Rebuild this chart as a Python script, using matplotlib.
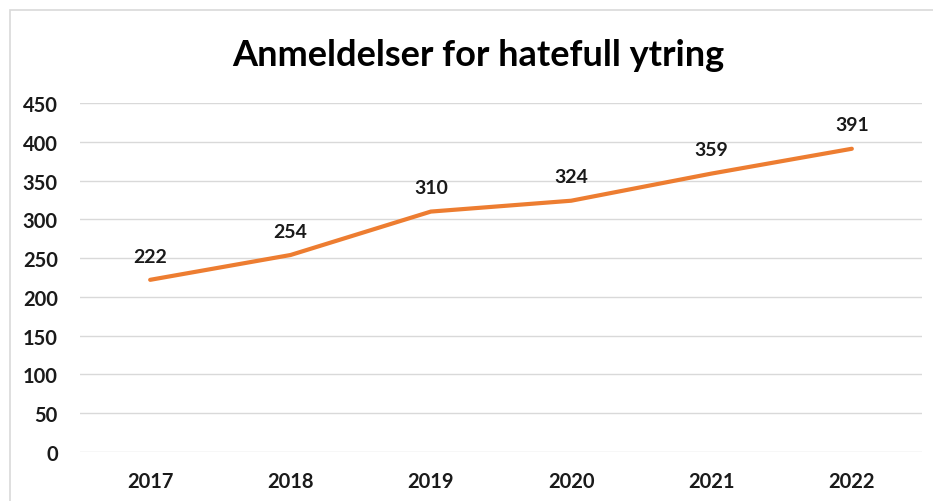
import matplotlib.pyplot as plt
from matplotlib.patches import Rectangle

# Data
years = ['2017', '2018', '2019', '2020', '2021', '2022']
anmeldelser = [222, 254, 310, 324, 359, 391]
yticks = [0, 50, 100, 150, 200, 250, 300, 350, 400, 450]

plt.rcParams['font.family'] = ['Lato', 'DejaVu Sans']

fig = plt.figure(figsize=(9.33, 5.02), dpi=100)
ax = fig.add_axes([80 / 933, 1 - 453 / 502, 842 / 933, 349 / 502])

# Chart border
fig.patches.append(Rectangle((10 / 933, -0.1), 1.2, 1 - 11 / 502 + 0.1,
                             transform=fig.transFigure, fill=False,
                             edgecolor='#d9d9d9', linewidth=1.2))

x = range(len(years))
ax.plot(x, anmeldelser, color='#ED7D31', linewidth=3, solid_capstyle='round')
for xi, v in zip(x, anmeldelser):
    ax.annotate(str(v), (xi, v), xytext=(0, 11), textcoords='offset points',
                ha='center', va='bottom', fontsize=14, fontweight='bold',
                color='#1a1a1a')

ax.set_xlim(-0.5, len(years) - 0.5)
ax.set_ylim(0, 450)
ax.set_xticks(list(x))
ax.set_xticklabels(years)
ax.set_yticks(yticks)
ax.tick_params(length=0, labelsize=14.5, colors='#1a1a1a', pad=14)
ax.tick_params(axis='y', pad=16)
for lbl in ax.get_xticklabels() + ax.get_yticklabels():
    lbl.set_fontweight('bold')
ax.grid(axis='y', color='#d9d9d9', linewidth=1)
ax.set_axisbelow(True)
for s in ax.spines.values():
    s.set_visible(False)

fig.text(478 / 933, 1 - 56 / 502, 'Anmeldelser for hatefull ytring',
         ha='center', va='center', fontsize=26, fontweight='bold', color='black')

fig.savefig('out.png', dpi=100)
